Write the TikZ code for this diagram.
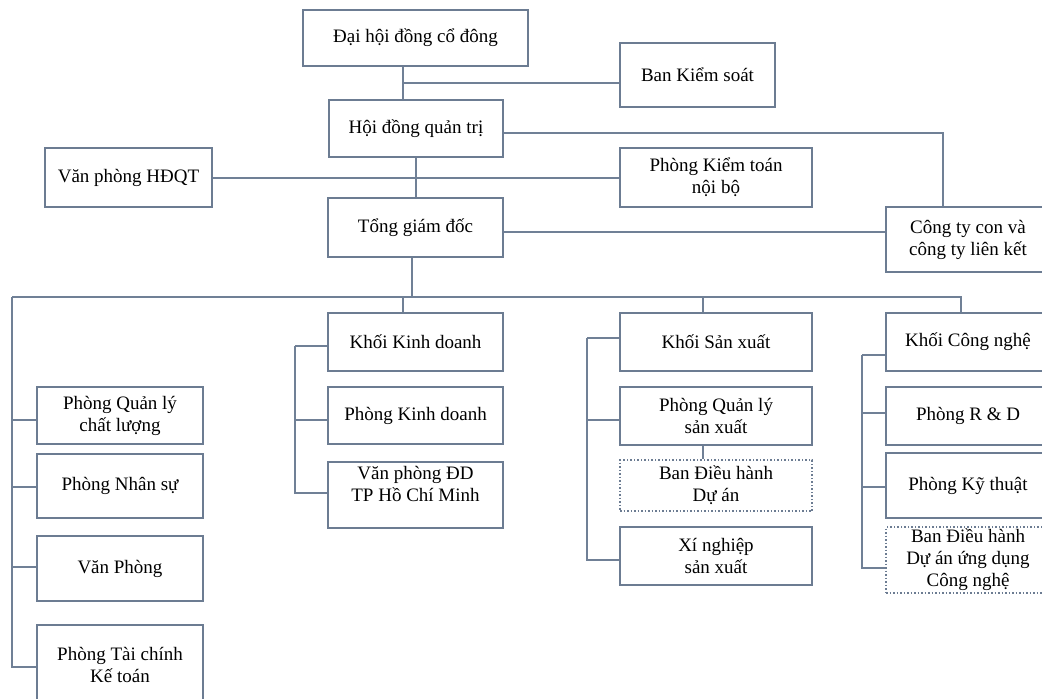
\documentclass[tikz,border=0pt]{standalone}
\usepackage{fontspec}
\setmainfont{Liberation Serif}
\usetikzlibrary{positioning}
\definecolor{boxline}{RGB}{108,124,146}
\definecolor{wireline}{RGB}{112,128,150}
\tikzset{
  box/.style={rectangle, draw=boxline, line width=1.5pt, fill=white, align=center,
    inner sep=1pt, font=\fontsize{19}{22}\selectfont},
  dotbox/.style={box, dotted, line width=1.2pt},
  conn/.style={draw=wireline, line width=1.3pt},
}

\begin{document}
\begin{tikzpicture}[x=1pt, y=-1pt]
  \useasboundingbox (0,0) rectangle (1042,699);
  \fill[white] (0,0) rectangle (1042,699);
  % top management
  \node[box, minimum width=225pt, minimum height=56pt] (dhcd) at (415.5,38) {Đại hội đồng cổ đông};
  \node[box, minimum width=155pt, minimum height=64pt] (bks) at (697.5,75) {Ban Kiểm soát};
  \node[box, minimum width=174pt, minimum height=57pt] (hdqt) at (416,128.5) {Hội đồng quản trị};
  \node[box, minimum width=167pt, minimum height=59pt] (vphd) at (128.5,177.5) {Văn phòng HĐQT};
  \node[box, minimum width=192pt, minimum height=59pt] (pktnb) at (716,177.5) {Phòng Kiểm toán\\nội bộ};
  \node[box, minimum width=175pt, minimum height=59pt] (tgd) at (415.5,227.5) {Tổng giám đốc};
  \node[box, minimum width=164pt, minimum height=65pt] (ctcon) at (968,239.5) {Công ty con và\\công ty liên kết};
  % left column
  \node[box, minimum width=166pt, minimum height=57pt] (pqlcl) at (120,415.5) {Phòng Quản lý\\chất lượng};
  \node[box, minimum width=166pt, minimum height=64pt] (pns) at (120,486) {Phòng Nhân sự};
  \node[box, minimum width=166pt, minimum height=65pt] (vp) at (120,568.5) {Văn Phòng};
  \node[box, minimum width=166pt, minimum height=80pt] (ptckt) at (120,665) {Phòng Tài chính\\Kế toán};
  % business
  \node[box, minimum width=175pt, minimum height=58pt] (kkd) at (415.5,342) {Khối Kinh doanh};
  \node[box, minimum width=175pt, minimum height=57pt] (pkd) at (415.5,415.5) {Phòng Kinh doanh};
  \node[box, minimum width=175pt, minimum height=66pt] (vpdd) at (415.5,495) {Văn phòng ĐD\\TP Hồ Chí Minh\\\mbox{}};
  % production
  \node[box, minimum width=192pt, minimum height=58pt] (ksx) at (716,342) {Khối Sản xuất};
  \node[box, minimum width=192pt, minimum height=58pt] (pqlsx) at (716,416) {Phòng Quản lý\\sản xuất};
  \node[dotbox, minimum width=192pt, minimum height=51pt] (bdhda) at (716,485.5) {Ban Điều hành\\Dự án};
  \node[box, minimum width=192pt, minimum height=58pt] (xn) at (716,556) {Xí nghiệp\\sản xuất};
  % technology
  \node[box, minimum width=164pt, minimum height=58pt] (kcn) at (968,342) {Khối Công nghệ};
  \node[box, minimum width=164pt, minimum height=58pt] (prd) at (968,416) {Phòng R \& D};
  \node[box, minimum width=164pt, minimum height=65pt] (pkyt) at (968,485.5) {Phòng Kỹ thuật};
  \node[dotbox, minimum width=164pt, minimum height=66pt] (bdhud) at (968,560) {Ban Điều hành\\Dự án ứng dụng\\Công nghệ};

  % connectors, top part
  \coordinate (j1) at (403,83);
  \draw[conn] (j1 |- dhcd.south) -- (j1 |- hdqt.north);
  \draw[conn] (j1) -- (j1 -| bks.west);
  \draw[conn] ([yshift=-4.5pt]hdqt.east) -| ([xshift=-25pt]ctcon.north);
  \draw[conn] (hdqt.south) -- (hdqt.south |- tgd.north);
  \draw[conn] ([yshift=-0.5pt]vphd.east) -- ([yshift=-0.5pt]pktnb.west);
  \draw[conn] ([yshift=-4.5pt]tgd.east) -- ([yshift=-4.5pt]tgd.east -| ctcon.west);

  % bus under the director
  \coordinate (busl) at (12,297);
  \coordinate (busr) at (961,297);
  \draw[conn] (busl) -- (busr);
  \draw[conn] ([xshift=-3.5pt]tgd.south) |- (busl);
  \foreach \n/\d in {kkd/-12.5, ksx/-13, kcn/-7}
    \draw[conn] ([xshift=\d pt]\n.north) |- (busl);

  % branches
  \foreach \n/\d in {pqlcl/-4.5, pns/-1, vp/1.5, ptckt/-2}
    \draw[conn] ([yshift=\d pt]\n.west) -| (busl);
  \coordinate (kkdsp) at (295,346);
  \foreach \n/\d in {kkd/-4, pkd/-4.5, vpdd/2}
    \draw[conn] ([yshift=\d pt]\n.west) -| (kkdsp);
  \coordinate (ksxsp) at (587,338);
  \foreach \n/\d in {ksx/4, pqlsx/-4, xn/-4}
    \draw[conn] ([yshift=\d pt]\n.west) -| (ksxsp);
  \draw[conn] ([xshift=-13pt]pqlsx.south) -- ([xshift=-13pt]bdhda.north);
  \coordinate (kcnsp) at (862,355);
  \foreach \n/\d in {kcn/-13, prd/3, pkyt/-1.5, bdhud/-8}
    \draw[conn] ([yshift=\d pt]\n.west) -| (kcnsp);
\end{tikzpicture}
\end{document}
